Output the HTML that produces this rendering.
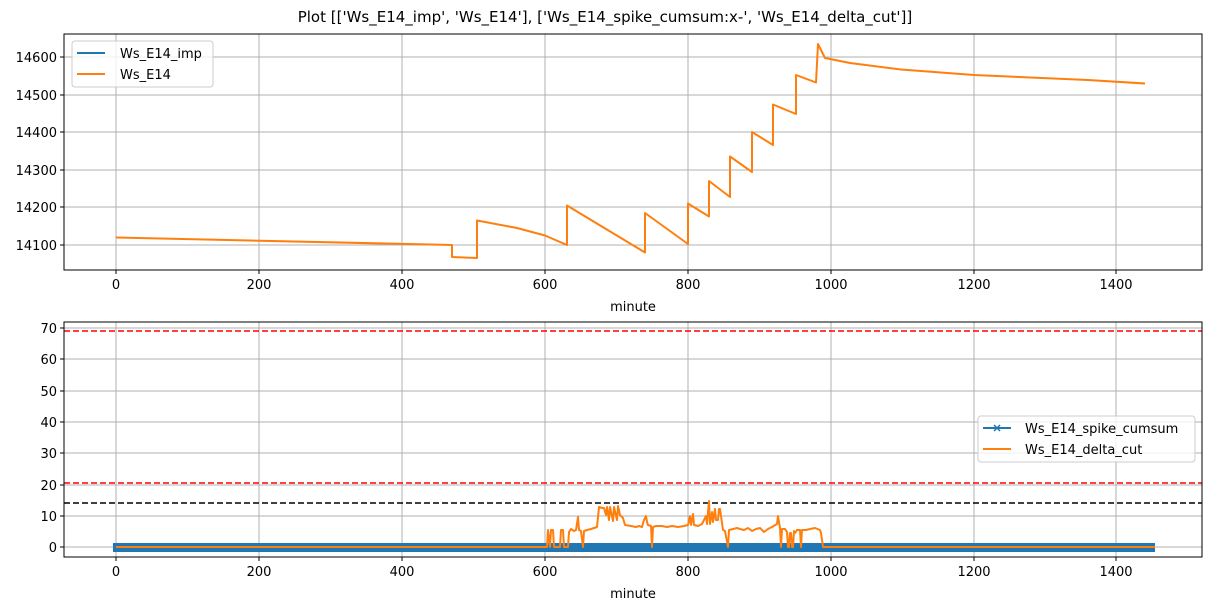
<!DOCTYPE html>
<html><head><meta charset="utf-8"><style>
body{margin:0;background:#fff;font-family:"DejaVu Sans","Liberation Sans",sans-serif;}
svg text{font-family:"DejaVu Sans","Liberation Sans",sans-serif;font-size:13px;fill:#000}
</style></head><body>
<svg width="1211" height="611" viewBox="0 0 1211 611">
<text x="605" y="22" text-anchor="middle" font-size="15" style="font-size:15px">Plot [['Ws_E14_imp', 'Ws_E14'], ['Ws_E14_spike_cumsum:x-', 'Ws_E14_delta_cut']]</text>
<g stroke="#b0b0b0" stroke-width="1">
<line x1="116" y1="34" x2="116" y2="270"/><line x1="259" y1="34" x2="259" y2="270"/><line x1="402" y1="34" x2="402" y2="270"/><line x1="545" y1="34" x2="545" y2="270"/><line x1="688" y1="34" x2="688" y2="270"/><line x1="831" y1="34" x2="831" y2="270"/><line x1="974" y1="34" x2="974" y2="270"/><line x1="1116" y1="34" x2="1116" y2="270"/>
<line x1="64" y1="57" x2="1202" y2="57"/><line x1="64" y1="95" x2="1202" y2="95"/><line x1="64" y1="132" x2="1202" y2="132"/><line x1="64" y1="170" x2="1202" y2="170"/><line x1="64" y1="207" x2="1202" y2="207"/><line x1="64" y1="245" x2="1202" y2="245"/>
</g>
<polyline fill="none" stroke="#ff7f0e" stroke-width="2" stroke-linejoin="round" points="116,237.5 452,245 452,257 477,258 477,220.5 517,228 545,235.5 567,245 567,205.5 645,252.5 645,213 688,244 688,203.5 709,216.5 709,181 730,197 730,156.5 752,172 752,132 773,145 773,104.5 796,114 796,75 816,82.5 818,44 825,58 850,63 901,69.5 974,75 1088,80 1145,83.5"/>
<rect x="64" y="34" width="1138" height="236" fill="none" stroke="#000" stroke-width="1"/>
<g stroke="#000"><line x1="116" y1="270" x2="116" y2="274"/><line x1="259" y1="270" x2="259" y2="274"/><line x1="402" y1="270" x2="402" y2="274"/><line x1="545" y1="270" x2="545" y2="274"/><line x1="688" y1="270" x2="688" y2="274"/><line x1="831" y1="270" x2="831" y2="274"/><line x1="974" y1="270" x2="974" y2="274"/><line x1="1116" y1="270" x2="1116" y2="274"/>
<line x1="60" y1="57" x2="64" y2="57"/><line x1="60" y1="95" x2="64" y2="95"/><line x1="60" y1="132" x2="64" y2="132"/><line x1="60" y1="170" x2="64" y2="170"/><line x1="60" y1="207" x2="64" y2="207"/><line x1="60" y1="245" x2="64" y2="245"/></g>
<g text-anchor="middle"><text x="116" y="289">0</text><text x="259" y="289">200</text><text x="402" y="289">400</text><text x="545" y="289">600</text><text x="688" y="289">800</text><text x="831" y="289">1000</text><text x="974" y="289">1200</text><text x="1116" y="289">1400</text><text x="633" y="311">minute</text></g>
<g text-anchor="end"><text x="57" y="62">14600</text><text x="57" y="100">14500</text><text x="57" y="137">14400</text><text x="57" y="175">14300</text><text x="57" y="212">14200</text><text x="57" y="250">14100</text></g>
<rect x="72" y="41" width="141" height="46" rx="3" fill="#fff" fill-opacity="0.8" stroke="#ccc"/>
<line x1="77" y1="53" x2="105" y2="53" stroke="#1f77b4" stroke-width="2"/><text x="120" y="58">Ws_E14_imp</text>
<line x1="77" y1="74" x2="105" y2="74" stroke="#ff7f0e" stroke-width="2"/><text x="120" y="79">Ws_E14</text>
<g stroke="#b0b0b0" stroke-width="1">
<line x1="116" y1="322" x2="116" y2="557"/><line x1="259" y1="322" x2="259" y2="557"/><line x1="402" y1="322" x2="402" y2="557"/><line x1="545" y1="322" x2="545" y2="557"/><line x1="688" y1="322" x2="688" y2="557"/><line x1="831" y1="322" x2="831" y2="557"/><line x1="974" y1="322" x2="974" y2="557"/><line x1="1116" y1="322" x2="1116" y2="557"/>
<line x1="64" y1="547" x2="1202" y2="547"/><line x1="64" y1="516" x2="1202" y2="516"/><line x1="64" y1="485" x2="1202" y2="485"/><line x1="64" y1="453" x2="1202" y2="453"/><line x1="64" y1="422" x2="1202" y2="422"/><line x1="64" y1="391" x2="1202" y2="391"/><line x1="64" y1="359" x2="1202" y2="359"/><line x1="64" y1="328" x2="1202" y2="328"/>
</g>
<line x1="64" y1="331" x2="1202" y2="331" stroke="#ff0000" stroke-width="1.5" stroke-dasharray="6,3"/>
<line x1="64" y1="483" x2="1202" y2="483" stroke="#ff0000" stroke-width="1.5" stroke-dasharray="6,3"/>
<line x1="64" y1="503" x2="1202" y2="503" stroke="#000" stroke-width="1.5" stroke-dasharray="6,3"/>
<rect x="113" y="543" width="1042" height="9" fill="#1f77b4"/>
<polyline fill="none" stroke="#ff7f0e" stroke-width="2" stroke-linejoin="round" points="116,547 547,547 548,530 550,547 551,530 553,530 554,547 560,547 561,530 563,530 564,547 568,547 569,532 571,529 574,531 576,530 578,517 579,530 581,531 583,547 584,531 587,530 591,529 594,528 597,527 599,507 602,508 604,508 606,515 607,507 609,520 610,507 613,521 614,507 617,520 618,506 620,515 623,518 625,525 631,526 636,527 639,526 642,527 644,520 646,516 647,522 648,525 651,526 652,547 653,527 656,526 662,526 667,527 672,526 678,527 684,526 688,525 690,516 691,525 693,514 694,525 698,526 702,524 706,516 707,524 709,501 710,524 712,512 713,522 715,509 716,520 718,520 719,509 720,509 723,530 725,531 728,547 729,530 733,529 737,528 740,529 744,530 748,528 752,531 756,529 760,528 764,532 768,529 772,527 777,524 778,516 780,528 781,547 782,529 785,529 787,532 788,547 789,547 790,533 791,533 792,547 793,547 794,531 795,533 797,530 800,530 801,547 802,530 806,530 810,529 815,528 820,530 821,533 823,547 1155,547"/>
<rect x="64" y="322" width="1138" height="235" fill="none" stroke="#000" stroke-width="1"/>
<g stroke="#000"><line x1="116" y1="557" x2="116" y2="561"/><line x1="259" y1="557" x2="259" y2="561"/><line x1="402" y1="557" x2="402" y2="561"/><line x1="545" y1="557" x2="545" y2="561"/><line x1="688" y1="557" x2="688" y2="561"/><line x1="831" y1="557" x2="831" y2="561"/><line x1="974" y1="557" x2="974" y2="561"/><line x1="1116" y1="557" x2="1116" y2="561"/>
<line x1="60" y1="547" x2="64" y2="547"/><line x1="60" y1="516" x2="64" y2="516"/><line x1="60" y1="485" x2="64" y2="485"/><line x1="60" y1="453" x2="64" y2="453"/><line x1="60" y1="422" x2="64" y2="422"/><line x1="60" y1="391" x2="64" y2="391"/><line x1="60" y1="359" x2="64" y2="359"/><line x1="60" y1="328" x2="64" y2="328"/></g>
<g text-anchor="middle"><text x="116" y="576">0</text><text x="259" y="576">200</text><text x="402" y="576">400</text><text x="545" y="576">600</text><text x="688" y="576">800</text><text x="831" y="576">1000</text><text x="974" y="576">1200</text><text x="1116" y="576">1400</text><text x="633" y="598">minute</text></g>
<g text-anchor="end"><text x="57" y="552">0</text><text x="57" y="521">10</text><text x="57" y="490">20</text><text x="57" y="458">30</text><text x="57" y="427">40</text><text x="57" y="396">50</text><text x="57" y="364">60</text><text x="57" y="333">70</text></g>
<rect x="978" y="416" width="217" height="46" rx="3" fill="#fff" fill-opacity="0.8" stroke="#ccc"/>
<line x1="983" y1="428" x2="1011" y2="428" stroke="#1f77b4" stroke-width="2"/><path d="M994,425 L1000,431 M1000,425 L994,431" stroke="#1f77b4" stroke-width="1.5"/><text x="1025" y="433">Ws_E14_spike_cumsum</text>
<line x1="983" y1="449" x2="1011" y2="449" stroke="#ff7f0e" stroke-width="2"/><text x="1025" y="454">Ws_E14_delta_cut</text>
</svg>
</body></html>
